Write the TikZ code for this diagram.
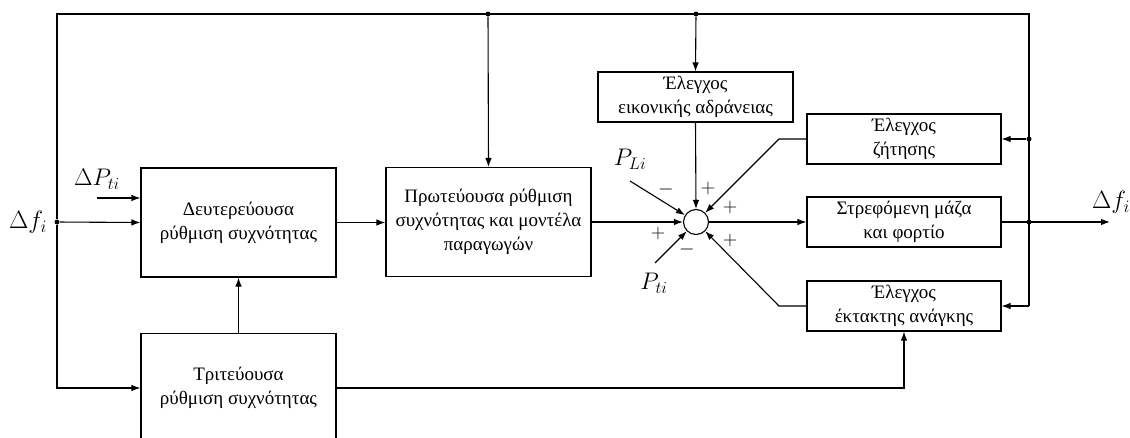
\RequirePackage{fix-cm}
\documentclass[tikz,border=0pt]{standalone}
\usepackage{fontspec}
\setmainfont{Liberation Serif}
\usetikzlibrary{arrows.meta}
\begin{document}
\begin{tikzpicture}[x=1pt,y=-1pt, line width=1.1pt,
  blk/.style={draw, align=center, inner sep=0pt,
    font=\fontsize{19}{24}\selectfont},
  bigbox/.style={blk, minimum width=195pt, minimum height=109pt},
  smallbox/.style={blk, minimum width=194pt, minimum height=50pt},
  arr/.style={-{Latex[length=9pt,width=6.5pt]}},
  dot/.style={circle, fill, inner sep=0pt, minimum size=5pt},
  sgn/.style={font=\fontsize{20}{22}\selectfont, inner sep=0pt},
  lbl/.style={inner sep=0pt, font=\fontsize{24}{26}\selectfont},
  biglbl/.style={inner sep=0pt, font=\fontsize{25}{28}\selectfont}]
\useasboundingbox (0,0) rectangle (1130,437);
\clip (0,0) rectangle (1130,437);

% blocks
\node[bigbox] (sec) at (238.5,222.5) {Δευτερεύουσα\\ρύθμιση συχνότητας};
\node[bigbox] (ter) at (238.5,388) {Τριτεύουσα\\ρύθμιση συχνότητας};
\node[bigbox, minimum width=205pt] (pri) at (488.5,222) {Πρωτεύουσα ρύθμιση\\συχνότητας και μοντέλα\\παραγωγών};
\node[smallbox, minimum width=195pt] (vin) at (695.5,97) {Έλεγχος\\εικονικής αδράνειας};
\node[smallbox] (dem) at (904,139) {Έλεγχος\\ζήτησης};
\node[smallbox] (rot) at (904,222) {Στρεφόμενη μάζα\\και φορτίο};
\node[smallbox] (emg) at (904,306) {Έλεγχος\\έκτακτης ανάγκης};
\node[draw, circle, minimum size=25pt, inner sep=0pt] (sum) at (696,222) {};

% junctions
\node[dot] (jl) at (57,222) {};
\node[dot] (jt1) at (488,14) {};
\node[dot] (jt2) at (696,14) {};
\node[dot] (jr1) at (1029,139) {};
\node[dot] (jr2) at (1029,222) {};
\coordinate (tl) at (57,14);
\coordinate (tr) at (1029,14);
\coordinate (rb) at (1029,306);
\coordinate (out) at (1110,222);
\coordinate (dp) at (97,198);
\coordinate (pl) at (630,181);
\coordinate (pt) at (655,263);
\coordinate (kd) at (779,139);
\coordinate (ke) at (779,306);

% labels
\node[biglbl] (dfl) at (28,222) {$\Delta f_i$};
\node[biglbl] (dfr) at (1111,202) {$\Delta f_i$};
\node[lbl] (dpl) at (97,179) {$\Delta P_{ti}$};
\node[lbl] (pll) at (630,159) {$P_{Li}$};
\node[lbl] (ptl) at (654,283) {$P_{ti}$};

% signs
\node[sgn] at (666,189) {$-$};
\node[sgn] at (708,188) {$+$};
\node[sgn] at (730,207) {$+$};
\node[sgn] at (658,233) {$+$};
\node[sgn] at (687,249) {$-$};
\node[sgn] at (730,240) {$+$};

% connectors
\draw (jl) -- (tl) -- (tr) -- (rb);
\draw[arr] (rb) -- (emg.east);
\draw[arr] (jl) |- (ter.west);
\draw[arr] (jl) -- (sec.west);
\draw[arr] (dp) -- (dp -| sec.west);
\draw[arr] (ter.north) -- (sec.south);
\draw[arr] (sec.east) -- (sec.east -| pri.west);
\draw[arr] (jt1) -- (pri.north);
\draw[arr] (jt2) -- (vin.north);
\draw[arr] (vin.south) -- (sum.north);
\draw[arr] (pri.east) -- (sum.west);
\draw[arr] (pl) -- (sum);
\draw[arr] (pt) -- (sum);
\draw[arr] (dem.west) -- (kd) -- (sum.45);
\draw[arr] (emg.west) -- (ke) -- (sum.-45);
\draw[arr] (sum.east) -- (rot.west);
\draw[arr] (rot.east) -- (out);
\draw[arr] (jr1) -- (dem.east);
\draw[arr] (ter.east) -| (emg.south);
\end{tikzpicture}
\end{document}
